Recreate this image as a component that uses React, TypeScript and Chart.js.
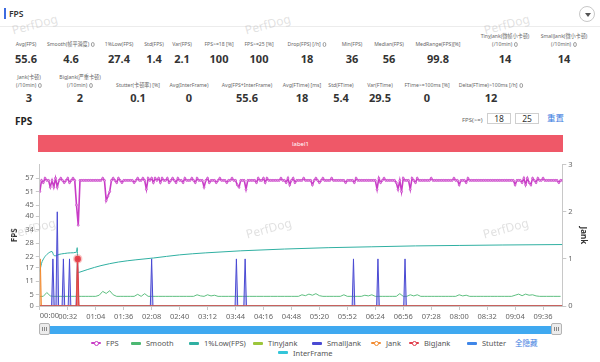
import React, { useEffect, useRef } from 'react';
import { Chart, registerables } from 'chart.js';

Chart.register(...registerables);

const FONT = '"Noto Sans", "Noto Sans CJK SC", sans-serif';

// ---------- time axis (seconds) ----------
const durationSeconds = 598;
const xTickSeconds = [0, 32, 64, 96, 128, 160, 192, 224, 256, 288, 320, 352, 384, 416, 448, 480, 512, 544, 576];

// ---------- left axis (FPS) ----------
const fpsAxisTicks = [0, 5, 11, 17, 22, 28, 34, 40, 45, 51, 57];
const fpsAxisMax = 63;
// ---------- right axis (Jank) ----------
const jankAxisTicks = [0, 1, 2, 3];
const jankAxisMax = 3;

// FPS sampled every 2 s
const fpsSampleSeconds = 2;
const fpsValues = [
  51, 56, 55, 57, 56, 56, 53, 56, 53, 57, 53, 56, 57, 56, 55, 56, 57, 55, 56, 57,
  56, 45, 36, 56, 56, 56, 56, 56, 56, 56, 56, 56, 56, 56, 56, 56, 57, 56, 47, 49,
  51, 56, 57, 56, 55, 57, 56, 55, 56, 56, 56, 56, 56, 56, 55, 56, 57, 56, 56, 57,
  56, 52, 57, 56, 57, 55, 57, 56, 57, 55, 57, 56, 56, 57, 55, 56, 57, 56, 55, 57,
  56, 56, 55, 57, 56, 56, 56, 57, 56, 55, 57, 56, 56, 56, 53, 56, 57, 55, 56, 56,
  56, 55, 56, 57, 56, 56, 56, 55, 56, 56, 57, 56, 56, 54, 53, 56, 56, 56, 52, 56,
  56, 56, 56, 56, 55, 57, 56, 56, 57, 55, 57, 56, 56, 56, 56, 56, 56, 56, 57, 56,
  56, 55, 57, 54, 56, 57, 55, 56, 56, 56, 56, 57, 56, 56, 56, 56, 54, 56, 57, 56,
  55, 56, 57, 56, 56, 56, 56, 57, 56, 56, 56, 56, 56, 56, 56, 55, 56, 56, 56, 56,
  55, 57, 56, 56, 56, 56, 56, 56, 56, 56, 56, 56, 56, 52, 57, 55, 56, 57, 56, 56,
  56, 56, 56, 56, 55, 52, 56, 51, 57, 56, 56, 56, 52, 57, 56, 55, 57, 56, 56, 56,
  56, 56, 56, 56, 57, 56, 56, 56, 56, 56, 56, 56, 56, 56, 56, 56, 56, 57, 56, 56,
  54, 56, 56, 56, 55, 57, 56, 56, 56, 56, 56, 56, 56, 56, 56, 56, 56, 56, 56, 56,
  56, 56, 56, 56, 56, 56, 56, 56, 56, 56, 56, 56, 54, 56, 56, 56, 55, 57, 54, 57,
  55, 54, 57, 56, 55, 57, 56, 56, 57, 56, 56, 56, 56, 56, 56, 56, 56, 55, 56, 56,
];

// Smooth sampled every 4 s
const smoothSampleSeconds = 4;
const smoothValues = [
  4.3, 4.3, 6, 4.5, 4.3, 4.3, 4.3, 4.3, 4.3, 4.3, 4.3, 4.3, 4.3, 4.3, 4.3, 4.3, 4.3, 4.8, 6.5, 5.6,
  6.8, 5, 4.3, 4.3, 4.3, 4.3, 4.3, 4.3, 5.2, 4.3, 5.5, 4.3, 4.3, 4.3, 4.3, 4.3, 4.3, 4.3, 4.3, 4.3,
  4.3, 4.3, 4.3, 4.3, 4.3, 5, 4.5, 4.3, 5, 4.5, 4.8, 4.3, 4.3, 4.3, 4.3, 4.3, 4.3, 4.3, 4.3, 4.3,
  4.3, 4.3, 4.3, 4.3, 4.3, 4.3, 4.3, 4.3, 4.3, 4.3, 4.3, 4.3, 4.3, 4.3, 4.3, 5, 4.6, 5.3, 4.8, 5.5,
  4.6, 4.3, 4.3, 4.3, 4.3, 4.3, 4.3, 5, 4.3, 4.3, 4.3, 4.3, 4.3, 4.8, 4.5, 5, 4.3, 4.3, 4.3, 4.3,
  4.3, 4.3, 4.3, 5.5, 4.3, 4.3, 5, 4.5, 5, 4.3, 4.3, 4.3, 4.3, 4.3, 4.3, 4.3, 4.3, 4.3, 4.3, 4.3,
  5, 4.5, 4.8, 4.3, 4.3, 4.3, 4.3, 4.3, 4.3, 4.3, 4.3, 4.3, 4.3, 4.3, 4.3, 4.3, 4.8, 5.3, 4.6, 5.3,
  4.8, 5, 4.5, 4.3, 4.3, 4.3, 4.3, 4.3, 4.3, 4.3,
];

// 1%Low(FPS)
const lowTimes = [0, 2, 5, 9, 14, 16, 18, 22, 28, 35, 42, 42.8, 43.6, 45, 55, 70, 90, 110, 130, 160, 190, 230, 280, 330, 380, 430, 480, 530, 598];
const lowValues = [15.4, 19, 21.5, 23.3, 24.3, 22.6, 22.4, 23, 23.4, 23.7, 24, 26, 14.8, 15, 16.3, 18, 19.6, 20.6, 21.4, 22.8, 23.7, 24.6, 25.4, 26, 26.4, 26.8, 27, 27.2, 27.4];

// Jank events (right axis)
const smallJankTimes = [15, 20, 27, 34, 43, 128, 225, 235, 359, 387, 418];
const smallJankValues = [1, 2, 1, 1, 1, 1, 1, 1, 1, 1, 1];
const jankTimes = [0.6, 43];
const jankValues = [1, 1];
const bigJankTimes = [43.4];
const bigJankValues = [1];
const zeroTimes = [0, durationSeconds];
const zeroValues = [0, 0];

// ---------- summary statistics ----------
const statRow1Labels = ['Avg(FPS)', 'Smooth(帧平滑度)', '1%Low(FPS)', 'Std(FPS)', 'Var(FPS)', 'FPS>=18 [%]', 'FPS>=25 [%]', 'Drop(FPS) [/h]', 'Min(FPS)', 'Median(FPS)', 'MedRange(FPS)[%]', 'TinyJank(微帧小卡顿)\n(/10min)', 'SmallJank(微小卡顿)\n(/10min)'];
const statRow1Values = ['55.6', '4.6', '27.4', '1.4', '2.1', '100', '100', '18', '36', '56', '99.8', '14', '14'];
const statRow1Info = [false, true, false, false, false, false, false, true, false, false, false, true, true];
const statRow2Labels = ['Jank(卡顿)\n(/10min)', 'BigJank(严重卡顿)\n(/10min)', 'Stutter(卡顿率) [%]', 'Avg(InterFrame)', 'Avg(FPS+InterFrame)', 'Avg(FTime) [ms]', 'Std(FTime)', 'Var(FTime)', 'FTime>=100ms [%]', 'Delta(FTime)>100ms [/h]'];
const statRow2Values = ['3', '2', '0.1', '0', '55.6', '18', '5.4', '29.5', '0', '12'];
const statRow2Info = [true, true, false, false, false, false, false, false, false, true];

const legendLabels = ['FPS', 'Smooth', '1%Low(FPS)', 'TinyJank', 'SmallJank', 'Jank', 'BigJank', 'Stutter', 'InterFrame'];
const fpsThresholds = ['18', '25'];

const COLORS = {
  fps: '#c83cc6',
  smooth: '#4cb872',
  low: '#30b0a2',
  tiny: '#9cc63b',
  small: '#4a4ad3',
  jank: '#f28b30',
  big: '#e03c4a',
  stutter: '#3f86e8',
  inter: '#33c5d9',
};
const legendColors = [COLORS.fps, COLORS.smooth, COLORS.low, COLORS.tiny, COLORS.small, COLORS.jank, COLORS.big, COLORS.stutter, COLORS.inter];
const legendMarker = [true, false, false, false, false, true, true, false, false];

function fmtTime(s: number) {
  const m = Math.floor(s / 60);
  const sec = Math.round(s % 60);
  return `${String(m).padStart(2, '0')}:${String(sec).padStart(2, '0')}`;
}

function spikes(times: number[], values: number[], half: number) {
  const pts: { x: number; y: number }[] = [{ x: 0, y: 0 }];
  times.forEach((t, i) => {
    pts.push({ x: Math.max(0, t - half), y: 0 }, { x: t, y: values[i] }, { x: t + half, y: 0 });
  });
  pts.push({ x: durationSeconds, y: 0 });
  return pts;
}

const firstLabelPlugin = {
  id: 'firstLabel',
  afterDraw(chart: any) {
    const xs = chart.scales.x;
    const ctx = chart.ctx;
    ctx.save();
    ctx.font = `7.5px ${FONT}`;
    ctx.fillStyle = '#666';
    ctx.textAlign = 'left';
    ctx.textBaseline = 'middle';
    ctx.fillText(fmtTime(0), xs.getPixelForValue(0), xs.top + 10);
    ctx.restore();
  },
};

function FpsChart() {
  const ref = useRef<HTMLCanvasElement>(null);
  useEffect(() => {
    Chart.defaults.font.family = FONT;
    Chart.defaults.color = '#666';
    const fpsData = fpsValues.map((v, i) => ({ x: i * fpsSampleSeconds, y: v }));
    const smoothData = smoothValues.map((v, i) => ({ x: i * smoothSampleSeconds, y: v }));
    const lowData = lowTimes.map((t, i) => ({ x: t, y: lowValues[i] }));
    const zeroData = zeroTimes.map((t, i) => ({ x: t, y: zeroValues[i] }));
    const tickFont = { size: 7.5, family: FONT };
    const chart = new Chart(ref.current as HTMLCanvasElement, {
      type: 'line',
      data: {
        datasets: [
          { label: 'FPS', data: fpsData, yAxisID: 'y', order: 0, borderColor: COLORS.fps, backgroundColor: COLORS.fps, borderWidth: 1.6, pointRadius: 1, pointBorderWidth: 0.6, pointBackgroundColor: '#e7a8e6', pointBorderColor: COLORS.fps },
          { label: 'BigJank', data: spikes(bigJankTimes, bigJankValues, 1.5), yAxisID: 'y1', order: 1, borderColor: COLORS.big, backgroundColor: 'rgba(230,70,70,0.45)', fill: 'origin', borderWidth: 1,
            pointRadius: (c: any) => (c.raw && c.raw.y > 0 ? 3.2 : 0), pointBackgroundColor: COLORS.big, pointBorderColor: 'rgba(240,90,90,0.35)', pointBorderWidth: 3 },
          { label: 'Jank', data: spikes(jankTimes, jankValues, 1.2), yAxisID: 'y1', order: 2, borderColor: COLORS.jank, backgroundColor: 'rgba(242,139,48,0.35)', fill: 'origin', borderWidth: 1, pointRadius: 0 },
          { label: 'SmallJank', data: spikes(smallJankTimes, smallJankValues, 1.5), yAxisID: 'y1', order: 3, borderColor: COLORS.small, backgroundColor: 'rgba(80,80,215,0.35)', fill: 'origin', borderWidth: 1, pointRadius: 0 },
          { label: '1%Low(FPS)', data: lowData, yAxisID: 'y', order: 4, borderColor: COLORS.low, borderWidth: 1, pointRadius: 0, cubicInterpolationMode: 'monotone' },
          { label: 'Smooth', data: smoothData, yAxisID: 'y', order: 5, borderColor: COLORS.smooth, borderWidth: 0.9, pointRadius: 0 },
          { label: 'TinyJank', data: zeroData, yAxisID: 'y1', order: 6, borderColor: COLORS.tiny, borderWidth: 1, pointRadius: 0 },
          { label: 'Stutter', data: zeroData, yAxisID: 'y1', order: 7, borderColor: COLORS.stutter, borderWidth: 1, pointRadius: 0 },
          { label: 'InterFrame', data: zeroData, yAxisID: 'y', order: 8, borderColor: COLORS.inter, borderWidth: 1, pointRadius: 0 },
        ] as any,
      },
      options: {
        responsive: false,
        maintainAspectRatio: false,
        animation: false,
        layout: { padding: { top: 12.7, left: 0, right: 0, bottom: 0 } },
        plugins: { legend: { display: false }, tooltip: { enabled: false } },
        scales: {
          x: {
            type: 'linear', min: 0, max: durationSeconds,
            afterBuildTicks: (s: any) => { s.ticks = xTickSeconds.map((v) => ({ value: v })); },
            afterFit: (s: any) => { s.height = 16; },
            ticks: { autoSkip: false, maxRotation: 0, minRotation: 0, padding: 2, color: '#666', font: tickFont,
              callback: (v: any) => (Number(v) === 0 ? '' : fmtTime(Number(v))) },
            grid: { drawOnChartArea: false, drawTicks: true, tickLength: 4, color: '#c8c8c8' },
            border: { display: true, color: '#c8c8c8' },
          },
          y: {
            position: 'left', min: 0, max: fpsAxisMax,
            afterBuildTicks: (s: any) => { s.ticks = fpsAxisTicks.map((v) => ({ value: v })); },
            afterFit: (s: any) => { s.width = 39.8; },
            ticks: { padding: 2, color: '#666', font: tickFont, autoSkip: false },
            grid: { drawOnChartArea: false, drawTicks: true, tickLength: 4, color: '#c8c8c8' },
            border: { display: true, color: '#c8c8c8' },
            title: { display: true, text: 'FPS', color: '#333', font: { size: 8, weight: 'bold', family: FONT }, padding: { top: 10, bottom: 0 } },
          },
          y1: {
            position: 'right', min: 0, max: jankAxisMax,
            afterBuildTicks: (s: any) => { s.ticks = jankAxisTicks.map((v) => ({ value: v })); },
            afterFit: (s: any) => { s.width = 37.7; },
            ticks: { padding: 2, color: '#666', font: tickFont },
            grid: { drawOnChartArea: false, drawTicks: true, tickLength: 4, color: '#c8c8c8' },
            border: { display: true, color: '#c8c8c8' },
            title: { display: true, text: 'Jank', color: '#333', font: { size: 8, weight: 'bold', family: FONT }, padding: { top: 12, bottom: 0 } },
          },
        },
      } as any,
      plugins: [firstLabelPlugin],
    });
    return () => chart.destroy();
  }, []);
  return (
    <canvas ref={ref} width={600} height={170}
      style={{ position: 'absolute', left: 0, top: 152, width: 600, height: 170 }} />
  );
}

const Info = () => (
  <span style={{ display: 'inline-block', width: 4.5, height: 4.5, borderRadius: '50%', border: '0.8px solid #999', marginLeft: 2, verticalAlign: 'middle', boxSizing: 'border-box' }} />
);

function StatCell(props: { label: string; value: string; x: number; labelTop: number; valueTop: number; info: boolean }) {
  const lines = props.label.split('\n');
  return (
    <>
      <div style={{ position: 'absolute', left: props.x, top: props.labelTop - (lines.length - 1) * 8, transform: 'translateX(-50%) scaleX(0.88)', fontSize: 5.8, lineHeight: '8px', color: '#666', textAlign: 'center', whiteSpace: 'nowrap' }}>
        {lines.map((l, i) => (
          <div key={i}>{l}{props.info && i === lines.length - 1 ? <Info /> : null}</div>
        ))}
      </div>
      <div style={{ position: 'absolute', left: props.x, top: props.valueTop, transform: 'translateX(-50%)', fontSize: 11, fontWeight: 700, lineHeight: '14px', color: '#333', whiteSpace: 'nowrap' }}>
        {props.value}
      </div>
    </>
  );
}

const row1X = [26, 71, 119, 154, 182, 219, 259, 307, 352, 389, 438, 505, 564];
const row2X = [29, 80, 138, 189, 247, 302, 341, 380, 427, 491];
const legendPos = [
  { x: 91, y: 343 }, { x: 131, y: 343 }, { x: 189, y: 343 }, { x: 253, y: 343 }, { x: 312, y: 343 },
  { x: 371, y: 343 }, { x: 409, y: 343 }, { x: 467, y: 343 }, { x: 278, y: 352.7 },
];
const watermarks = [
  { x: 10, y: 22 }, { x: 243, y: 22 }, { x: 482, y: 22 },
  { x: 8, y: 226 }, { x: 244, y: 226 }, { x: 481, y: 226 },
];

function LegendIcon({ color, marker }: { color: string; marker: boolean }) {
  return (
    <span style={{ position: 'relative', display: 'inline-block', width: 10, height: 6, verticalAlign: 'middle' }}>
      <span style={{ position: 'absolute', left: 0, top: marker ? 2 : 1.5, width: 10, height: marker ? 2 : 3, background: color, borderRadius: 1 }} />
      {marker ? (
        <span style={{ position: 'absolute', left: 2.5, top: 0.5, width: 5, height: 5, borderRadius: '50%', background: '#fff', border: `1.3px solid ${color}`, boxSizing: 'border-box' }} />
      ) : null}
    </span>
  );
}

function Handle({ x }: { x: number }) {
  return (
    <div style={{ position: 'absolute', left: x, top: 323, width: 11, height: 12, boxSizing: 'border-box', background: '#ececec', border: '1px solid #b4b4b4', borderRadius: 2 }}>
      {[3, 5, 7].map((l) => (
        <div key={l} style={{ position: 'absolute', left: l - 1, top: 3, width: 1, height: 4, background: '#888' }} />
      ))}
    </div>
  );
}

export default function App() {
  return (
    <div style={{ position: 'fixed', left: 0, top: 0, width: 600, height: 362, background: '#fff', fontFamily: FONT, overflow: 'hidden' }}>
      {/* header */}
      <div style={{ position: 'absolute', left: 4, top: 8, width: 2, height: 11, background: '#3d6be0' }} />
      <div style={{ position: 'absolute', left: 9, top: 7, fontSize: 8.5, fontWeight: 600, color: '#333', lineHeight: '13px' }}>FPS</div>
      <div style={{ position: 'absolute', left: 0, top: 26, width: 600, height: 1, background: '#ececec' }} />
      <div style={{ position: 'absolute', left: 579, top: 6, width: 16, height: 16, borderRadius: '50%', border: '1px solid #c8c8c8', boxSizing: 'border-box' }}>
        <div style={{ position: 'absolute', left: 4.5, top: 6, width: 0, height: 0, borderLeft: '3px solid transparent', borderRight: '3px solid transparent', borderTop: '4px solid #555' }} />
      </div>

      {/* stats */}
      {statRow1Labels.map((l, i) => (
        <StatCell key={'a' + i} label={l} value={statRow1Values[i]} x={row1X[i]} labelTop={40} valueTop={52} info={statRow1Info[i]} />
      ))}
      {statRow2Labels.map((l, i) => (
        <StatCell key={'b' + i} label={l} value={statRow2Values[i]} x={row2X[i]} labelTop={81} valueTop={91} info={statRow2Info[i]} />
      ))}

      {/* chart title + threshold controls */}
      <div style={{ position: 'absolute', left: 15, top: 115, fontSize: 10, fontWeight: 700, color: '#222', lineHeight: '13px' }}>FPS</div>
      <div style={{ position: 'absolute', left: 462, top: 116, fontSize: 6, color: '#666', lineHeight: '8px' }}>FPS(&gt;=)</div>
      {fpsThresholds.map((v, i) => (
        <div key={v} style={{ position: 'absolute', left: 487 + i * 28, top: 113, width: 24, height: 11, boxSizing: 'border-box', border: '1px solid #cfcfcf', fontSize: 8.5, lineHeight: '9px', color: '#333', textAlign: 'center' }}>{v}</div>
      ))}
      <div style={{ position: 'absolute', left: 547, top: 112, fontSize: 8.5, color: '#3b7be0', lineHeight: '12px' }}>重置</div>

      {/* label bar */}
      <div style={{ position: 'absolute', left: 38.3, top: 135, width: 524.4, height: 16.5, background: '#ef5868' }}>
        <div style={{ position: 'absolute', left: 0, width: '100%', top: 4.5, textAlign: 'center', fontSize: 6, lineHeight: '8px', color: '#fff' }}>label1</div>
      </div>

      <FpsChart />

      {/* data zoom slider */}
      <div style={{ position: 'absolute', left: 44, top: 325.5, width: 512, height: 8, background: '#3fa9f0' }} />
      <Handle x={39} />
      <Handle x={551} />

      {/* legend */}
      {legendLabels.map((l, i) => (
        <div key={l} style={{ position: 'absolute', left: legendPos[i].x, top: legendPos[i].y - 5, height: 10, display: 'flex', alignItems: 'center', whiteSpace: 'nowrap', fontSize: 7.5, color: '#555', lineHeight: '10px' }}>
          <LegendIcon color={legendColors[i]} marker={legendMarker[i]} />
          <span style={{ marginLeft: 5 }}>{l}</span>
        </div>
      ))}
      <div style={{ position: 'absolute', left: 515, top: 338, fontSize: 7.5, color: '#3b7be0', lineHeight: '10px' }}>全隐藏</div>

      {/* watermarks */}
      {watermarks.map((w, i) => (
        <div key={i} style={{ position: 'absolute', left: w.x, top: w.y, fontSize: 12, color: 'rgba(180,180,180,0.4)', transform: 'rotate(-15deg)', transformOrigin: 'left top', pointerEvents: 'none', whiteSpace: 'nowrap' }}>PerfDog</div>
      ))}
    </div>
  );
}
